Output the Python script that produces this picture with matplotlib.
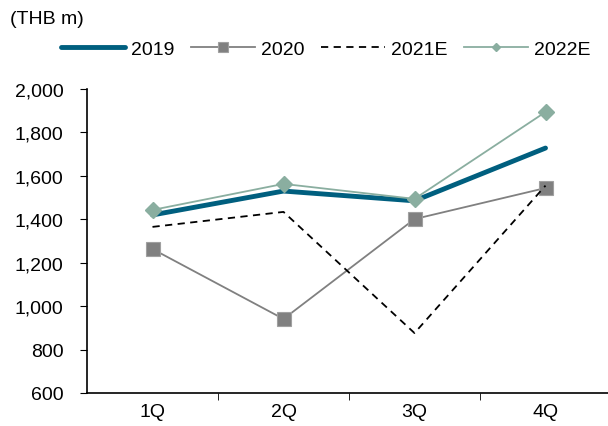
import matplotlib.pyplot as plt
import numpy as np

plt.rcParams['font.family'] = ['Liberation Sans', 'DejaVu Sans']

quarters = ["1Q", "2Q", "3Q", "4Q"]
y2019 = [1420, 1530, 1485, 1728]
y2020 = [1263, 941, 1401, 1544]
y2021e = [1365, 1434, 876, 1555]
y2022e = [1443, 1563, 1494, 1894]

fig = plt.figure(figsize=(6.08, 4.27), dpi=100)
ax = fig.add_axes([87/608, 1 - 394/427, 524/608, 304/427])

x = np.arange(len(quarters))
ax.plot(x, y2019, color="#005f7f", lw=3.5, solid_capstyle="round", label="2019")
ax.plot(x, y2020, color="#808080", lw=1.3, marker="s", markersize=10,
        markeredgecolor="#a0a0a0", markeredgewidth=0.8, label="2020")
ax.plot(x, y2021e, color="black", lw=1.3, ls=(0, (4, 3)), label="2021E")
ax.plot(x, y2022e, color="#8aaea0", lw=1.3, marker="D", markersize=8, label="2022E")

ax.set_xlim(-0.5, 3.5)
ax.set_ylim(600, 2000)
ax.set_yticks(range(600, 2001, 200))
ax.set_yticklabels([f"{v:,}" for v in range(600, 2001, 200)], fontsize=14)
ax.set_xticks(x)
ax.set_xticklabels(quarters, fontsize=14)
ax.set_xticks([0.5, 1.5, 2.5], minor=True)
ax.tick_params(axis="x", which="major", length=0, pad=7)
ax.tick_params(axis="x", which="minor", length=5, direction="out")
ax.tick_params(axis="y", length=5, direction="out", pad=12)
for s in ["top", "right"]:
    ax.spines[s].set_visible(False)
for s in ["left", "bottom"]:
    ax.spines[s].set_linewidth(1.2)

fig.text(10/608, 1 - 20/427, "(THB m)", fontsize=14, va="center", ha="left")
leg = fig.legend(loc="center left", bbox_to_anchor=(61/608, 1 - 50/427), ncol=4,
                 frameon=False, fontsize=14, handlelength=3.3, columnspacing=0.85,
                 handletextpad=0.3, borderaxespad=0, borderpad=0)
sizes = [None, 7, None, 4]
for h, s in zip(leg.legend_handles, sizes):
    if s is not None:
        h.set_markersize(s)
fig.savefig("out.png", dpi=100)
